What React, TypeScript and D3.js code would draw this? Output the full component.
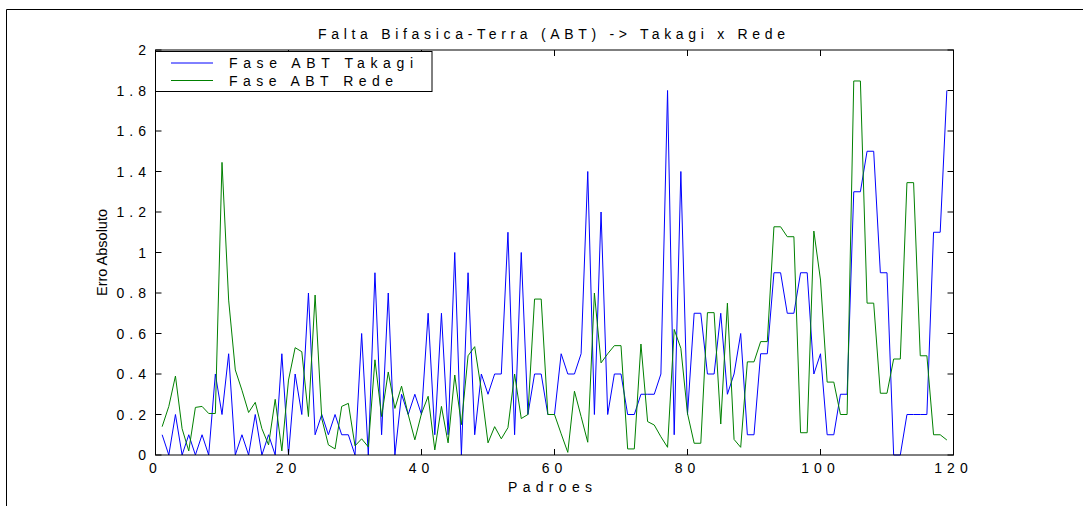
import React from "react";
import * as d3 from "d3";

const TITLE = "Falta Bifasica-Terra (ABT) -> Takagi x Rede";
const X_LABEL = "Padroes";
const Y_LABEL = "Erro Absoluto";
const SERIES_NAMES = ["Fase ABT Takagi", "Fase ABT Rede"];
const SERIES_COLORS = ["#0000ff", "#008000"];

const X_TICKS = [0, 20, 40, 60, 80, 100, 120];
const Y_TICKS = [0, 0.2, 0.4, 0.6, 0.8, 1, 1.2, 1.4, 1.6, 1.8, 2];

const takagi = [
  0.1, 0, 0.2, 0, 0.1, 0, 0.1, 0, 0.4, 0.2,
  0.5, 0, 0.1, 0, 0.2, 0, 0.1, 0, 0.5, 0,
  0.4, 0.2, 0.8, 0.1, 0.2, 0.1, 0.2, 0.1, 0.1, 0,
  0.6, 0, 0.9, 0.1, 0.8, 0, 0.3, 0.2, 0.3, 0.2,
  0.7, 0.1, 0.7, 0.1, 1.0, 0, 0.9, 0.1, 0.4, 0.3,
  0.4, 0.4, 1.1, 0.1, 1.0, 0.2, 0.4, 0.4, 0.2, 0.2,
  0.5, 0.4, 0.4, 0.5, 1.4, 0.2, 1.2, 0.2, 0.4, 0.4,
  0.2, 0.2, 0.3, 0.3, 0.3, 0.4, 1.8, 0.1, 1.4, 0.2,
  0.7, 0.7, 0.4, 0.4, 0.7, 0.3, 0.4, 0.6, 0.1, 0.1,
  0.5, 0.5, 0.9, 0.9, 0.7, 0.7, 0.9, 0.9, 0.4, 0.5,
  0.1, 0.1, 0.3, 0.3, 1.3, 1.3, 1.5, 1.5, 0.9, 0.9,
  0, 0, 0.2, 0.2, 0.2, 0.2, 1.1, 1.1, 1.8,
];

const rede = [
  0.14, 0.24, 0.39, 0.13, 0.02, 0.235, 0.24, 0.205, 0.205, 1.445,
  0.765, 0.42, 0.32, 0.21, 0.26, 0.13, 0.05, 0.275, 0.02, 0.37,
  0.53, 0.51, 0.19, 0.79, 0.18, 0.05, 0.03, 0.24, 0.255, 0.045,
  0.08, 0.04, 0.47, 0.19, 0.41, 0.23, 0.34, 0.2, 0.075, 0.205,
  0.29, 0.025, 0.24, 0.06, 0.395, 0.15, 0.49, 0.535, 0.32, 0.06,
  0.14, 0.08, 0.135, 0.4, 0.18, 0.2, 0.77, 0.77, 0.2, 0.2,
  0.105, 0.013, 0.315, 0.19, 0.063, 0.8, 0.455, 0.5, 0.54, 0.54,
  0.03, 0.03, 0.548, 0.165, 0.148, 0.09, 0.038, 0.62, 0.527, 0.205,
  0.058, 0.058, 0.703, 0.703, 0.153, 0.75, 0.077, 0.038, 0.46, 0.46,
  0.56, 0.56, 1.127, 1.127, 1.078, 1.078, 0.11, 0.11, 1.106, 0.864,
  0.36, 0.36, 0.2, 0.2, 1.847, 1.847, 0.75, 0.75, 0.305, 0.305,
  0.474, 0.474, 1.345, 1.345, 0.49, 0.49, 0.1, 0.1, 0.074,
];

const W = 1083;
const H = 506;
const LEFT = 155.5;
const RIGHT = 953.5;
const TOP = 50;
const BOTTOM = 455;
const FONT = "'Liberation Sans', Arial, Helvetica, sans-serif";

export default function App() {
  const x = d3.scaleLinear().domain([0, 120]).range([LEFT, RIGHT]);
  const y = d3.scaleLinear().domain([0, 2]).range([BOTTOM, TOP]);
  const line = d3
    .line<number>()
    .x((_, i) => x(i + 1))
    .y((d) => y(d));
  const series = [takagi, rede];
  const tickLen = 6;
  const fmt = (v: number) => String(+v.toFixed(1));

  return (
    <svg
      width={W}
      height={H}
      style={{ position: "absolute", left: 0, top: 0, background: "#fff" }}
      fontFamily={FONT}
    >
      <rect x={0} y={0} width={W} height={H} fill="#fff" />
      {/* figure frame */}
      <line x1={6.5} y1={9.5} x2={W} y2={9.5} stroke="#000" strokeWidth={1} />
      <line x1={6.5} y1={9.5} x2={6.5} y2={H} stroke="#000" strokeWidth={1} />

      <defs>
        <clipPath id="plotclip">
          <rect x={LEFT} y={TOP - 1} width={RIGHT - LEFT} height={BOTTOM - TOP + 2} />
        </clipPath>
      </defs>

      {/* data */}
      <g clipPath="url(#plotclip)">
        {series.map((s, k) => (
          <path
            key={k}
            d={line(s) || ""}
            fill="none"
            stroke={SERIES_COLORS[k]}
            strokeWidth={1}
            strokeLinejoin="miter"
          />
        ))}
      </g>

      {/* axes box */}
      <rect
        x={LEFT}
        y={TOP}
        width={RIGHT - LEFT}
        height={BOTTOM - TOP}
        fill="none"
        stroke="#000"
        strokeWidth={1}
      />

      {/* x ticks */}
      {X_TICKS.map((t) => (
        <g key={"x" + t}>
          <line x1={x(t)} x2={x(t)} y1={BOTTOM} y2={BOTTOM - tickLen} stroke="#000" />
          <line x1={x(t)} x2={x(t)} y1={TOP} y2={TOP + tickLen} stroke="#000" />
          <text
            x={x(t)}
            y={473}
            fontSize={14}
            textAnchor="middle"
            letterSpacing={5}
            fill="#000"
          >
            {fmt(t)}
          </text>
        </g>
      ))}

      {/* y ticks */}
      {Y_TICKS.map((t) => (
        <g key={"y" + t}>
          <line x1={LEFT} x2={LEFT + tickLen} y1={y(t)} y2={y(t)} stroke="#000" />
          <line x1={RIGHT} x2={RIGHT - tickLen} y1={y(t)} y2={y(t)} stroke="#000" />
          <text
            x={151}
            y={y(t)}
            dy="0.36em"
            fontSize={14}
            textAnchor="end"
            letterSpacing={5}
            fill="#000"
          >
            {fmt(t)}
          </text>
        </g>
      ))}

      {/* title */}
      <text x={318} y={39} fontSize={14} textLength={467} lengthAdjust="spacing" fill="#000">
        {TITLE}
      </text>

      {/* x label */}
      <text x={508} y={492} fontSize={14} textLength={84} lengthAdjust="spacing" fill="#000">
        {X_LABEL}
      </text>

      {/* y label */}
      <text
        transform={`translate(107, ${(TOP + BOTTOM) / 2}) rotate(-90)`}
        fontSize={14.5}
        textAnchor="middle"
        fill="#000"
      >
        {Y_LABEL}
      </text>

      {/* legend */}
      <rect x={LEFT} y={51.5} width={432 - LEFT} height={40} fill="#fff" stroke="#000" strokeWidth={1} />
      {SERIES_NAMES.map((name, k) => {
        const ly = k === 0 ? 63 : 80.5;
        return (
          <g key={name}>
            <line x1={171} x2={213} y1={ly} y2={ly} stroke={SERIES_COLORS[k]} strokeWidth={1} />
            <text
              x={229}
              y={ly + 5}
              fontSize={14}
              textLength={k === 0 ? 184 : 164}
              lengthAdjust="spacing"
              fill="#000"
            >
              {name}
            </text>
          </g>
        );
      })}
    </svg>
  );
}
